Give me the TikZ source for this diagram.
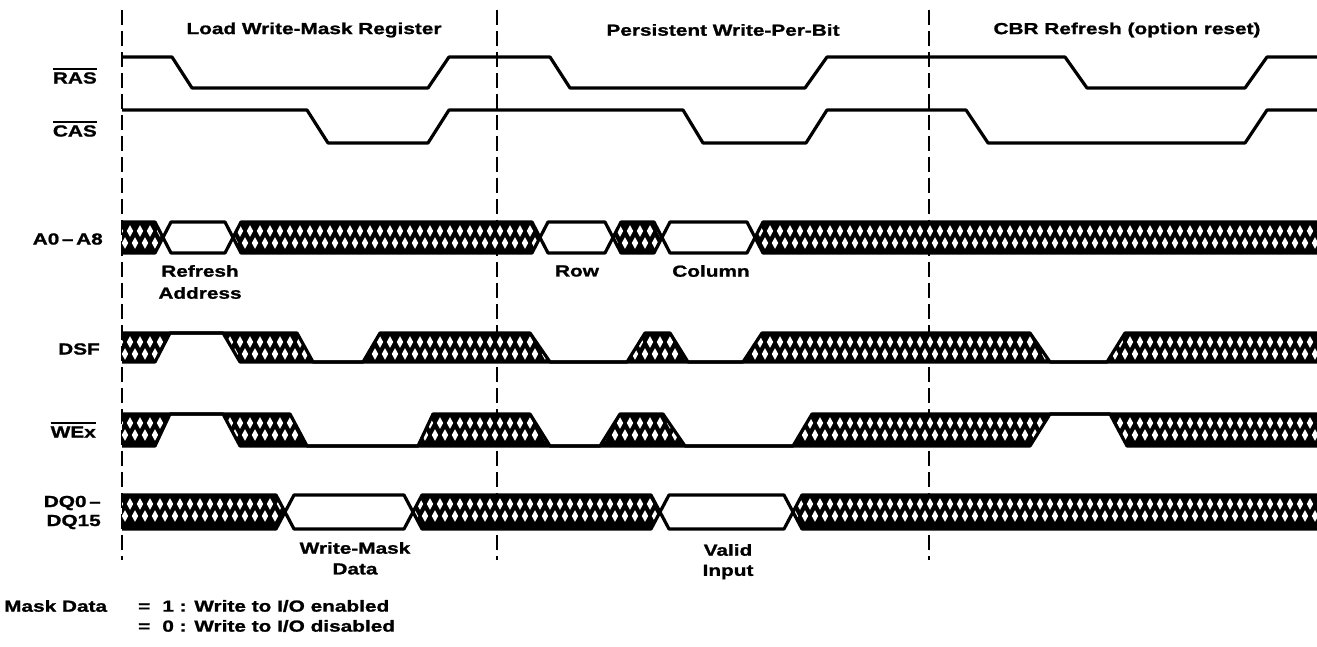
\documentclass[tikz,border=0pt]{standalone}
\usepackage{fontspec}
\setmainfont{Liberation Sans}[FakeStretch=1.3, BoldFeatures={FakeBold=1.2}]
\newcommand\ovl[1]{\vbox{\hrule height 1.8pt\kern 2.2pt\hbox{#1}}}
\newcommand\xhatch[4]{%
  \begin{scope}
    \clip #4;
    \fill[black] #4;
    \pgfmathsetmacro\ra{#3+9}
    \pgfmathsetmacro\rb{#3+21}
    \pgfmathtruncatemacro\xs{#1}
    \pgfmathtruncatemacro\xt{#1+10}
    \foreach \x in {\xs,\xt,...,#2}{
      \fill[white] (\x-3.2,\ra) -- (\x,\ra-5.8) -- (\x+3.2,\ra) -- (\x,\ra+5.8) -- cycle;
      \fill[white] (\x+1.8,\rb) -- (\x+5,\rb-5.8) -- (\x+8.2,\rb) -- (\x+5,\rb+5.8) -- cycle;
    }
  \end{scope}}
\tikzset{
  sig/.style={line width=3.2pt, line join=round},
  divider/.style={line width=1.4pt, dash pattern=on 15pt off 6pt},
  lbl/.style={font=\bfseries\fontsize{16}{19}\selectfont, inner sep=0pt},
  rlbl/.style={lbl, anchor=east},
}
\begin{document}
\begin{tikzpicture}[x=1pt,y=-1pt]
\useasboundingbox (0,0) rectangle (1317,647);
% dividers
\coordinate (d1t) at (122,10); \coordinate (d1b) at (122,560);
\coordinate (d2t) at (497,10); \coordinate (d2b) at (497,560);
\coordinate (d3t) at (929,10); \coordinate (d3b) at (929,560);
\draw[divider] (d1t) -- (d1b);
\draw[divider] (d2t) -- (d2b);
\draw[divider] (d3t) -- (d3b);
% titles
\node[lbl] (t1) at (314,30) {Load Write-Mask Register};
\node[lbl] (t2) at (723,30) {Persistent Write-Per-Bit};
\node[lbl] (t3) at (1127,30) {CBR Refresh (option reset)};
% signal labels
\node[rlbl] (lras) at (97,76) {\ovl{RAS}};
\node[rlbl] (lcas) at (97,129) {\ovl{CAS}};
\node[rlbl] (la) at (103,239) {A0\,--\,A8};
\node[rlbl] (ldsf) at (100,349) {DSF};
\node[rlbl] (lwe) at (96,430) {\ovl{WEx}};
\node[rlbl] (ldq1) at (101,503) {DQ0\,--};
\node[rlbl] (ldq2) at (101,522) {DQ15};
% RAS
\draw[sig] (122,57)--(172,57)--(192,88)--(428,88)--(449,57)--(550,57)--(570,88)--(805,88)--(827,57)--(1065,57)--(1087,88)--(1245,88)--(1267,57)--(1317,57);
% CAS
\draw[sig] (122,110)--(307,110)--(328,143)--(428,143)--(449,110)--(683,110)--(703,143)--(806,143)--(827,110)--(966,110)--(988,143)--(1245,143)--(1267,110)--(1317,110);
% A0-A8 bus
\xhatch{110}{170}{222}{(122,222)--(155,222)--(163,237.5)--(155,253)--(122,253)--cycle}
\xhatch{230}{540}{222}{(233,237.5)--(241,222)--(532,222)--(540,237.5)--(532,253)--(241,253)--cycle}
\xhatch{610}{670}{222}{(613,237.5)--(621,222)--(654,222)--(662,237.5)--(654,253)--(621,253)--cycle}
\xhatch{750}{1320}{222}{(755,237.5)--(763,222)--(1317,222)--(1317,253)--(763,253)--cycle}
\draw[sig] (122,222)--(155,222)--(171,253)--(225,253)--(241,222)--(532,222)--(548,253)--(605,253)--(621,222)--(654,222)--(670,253)--(747,253)--(763,222)--(1317,222);
\draw[sig] (122,253)--(155,253)--(171,222)--(225,222)--(241,253)--(532,253)--(548,222)--(605,222)--(621,253)--(654,253)--(670,222)--(747,222)--(763,253)--(1317,253);
\node[lbl] (refr) at (200,271) {Refresh};
\node[lbl] (addr) at (200,293) {Address};
\node[lbl] (row) at (577,271) {Row};
\node[lbl] (col) at (711,271) {Column};
% DSF
\xhatch{110}{180}{333}{(122,333)--(170,333)--(155,362)--(122,362)--cycle}
\xhatch{220}{320}{333}{(223,333)--(297,333)--(313,362)--(240,362)--cycle}
\xhatch{360}{560}{333}{(380,333)--(530,333)--(550,362)--(363,362)--cycle}
\xhatch{620}{690}{333}{(645,333)--(670,333)--(688,362)--(627,362)--cycle}
\xhatch{740}{1060}{333}{(762,333)--(1030,333)--(1050,362)--(743,362)--cycle}
\xhatch{1100}{1320}{333}{(1125,333)--(1317,333)--(1317,362)--(1107,362)--cycle}
\draw[sig] (122,333)--(297,333)--(313,362)--(363,362)--(380,333)--(530,333)--(550,362)--(627,362)--(645,333)--(670,333)--(688,362)--(743,362)--(762,333)--(1030,333)--(1050,362)--(1107,362)--(1125,333)--(1317,333);
\draw[sig] (122,362)--(155,362)--(170,333)--(223,333)--(240,362)--(1317,362);
% WEx
\xhatch{110}{180}{414}{(122,414)--(170,414)--(155,446)--(122,446)--cycle}
\xhatch{220}{310}{414}{(223,414)--(290,414)--(307,446)--(240,446)--cycle}
\xhatch{410}{560}{414}{(433,414)--(530,414)--(550,446)--(418,446)--cycle}
\xhatch{590}{690}{414}{(620,414)--(663,414)--(685,446)--(600,446)--cycle}
\xhatch{790}{1060}{414}{(812,414)--(1050,414)--(1030,446)--(793,446)--cycle}
\xhatch{1100}{1320}{414}{(1110,414)--(1317,414)--(1317,446)--(1127,446)--cycle}
\draw[sig] (122,414)--(290,414)--(307,446)--(418,446)--(433,414)--(530,414)--(550,446)--(600,446)--(620,414)--(663,414)--(685,446)--(793,446)--(812,414)--(1317,414);
\draw[sig] (122,446)--(155,446)--(170,414)--(223,414)--(240,446)--(1030,446)--(1050,414)--(1110,414)--(1127,446)--(1317,446);
% DQ bus
\xhatch{110}{290}{495}{(122,495)--(276,495)--(285,512)--(276,529)--(122,529)--cycle}
\xhatch{410}{660}{495}{(413,512)--(422,495)--(651,495)--(660,512)--(651,529)--(422,529)--cycle}
\xhatch{790}{1320}{495}{(793,512)--(802,495)--(1317,495)--(1317,529)--(802,529)--cycle}
\draw[sig] (122,495)--(276,495)--(294,529)--(404,529)--(422,495)--(651,495)--(669,529)--(784,529)--(802,495)--(1317,495);
\draw[sig] (122,529)--(276,529)--(294,495)--(404,495)--(422,529)--(651,529)--(669,495)--(784,495)--(802,529)--(1317,529);
\node[lbl] (wm1) at (355,548) {Write-Mask};
\node[lbl] (wm2) at (355,569) {Data};
\node[lbl] (vi1) at (728,550) {Valid};
\node[lbl] (vi2) at (728,572) {Input};
% footnote
\node[lbl, anchor=west] (md) at (4,606) {Mask Data};
\node[lbl, anchor=west] (eq1) at (138,606) {=\hspace{12pt}1 : Write to I/O enabled};
\node[lbl, anchor=west] (eq2) at (138,626) {=\hspace{12pt}0 : Write to I/O disabled};
\end{tikzpicture}
\end{document}
